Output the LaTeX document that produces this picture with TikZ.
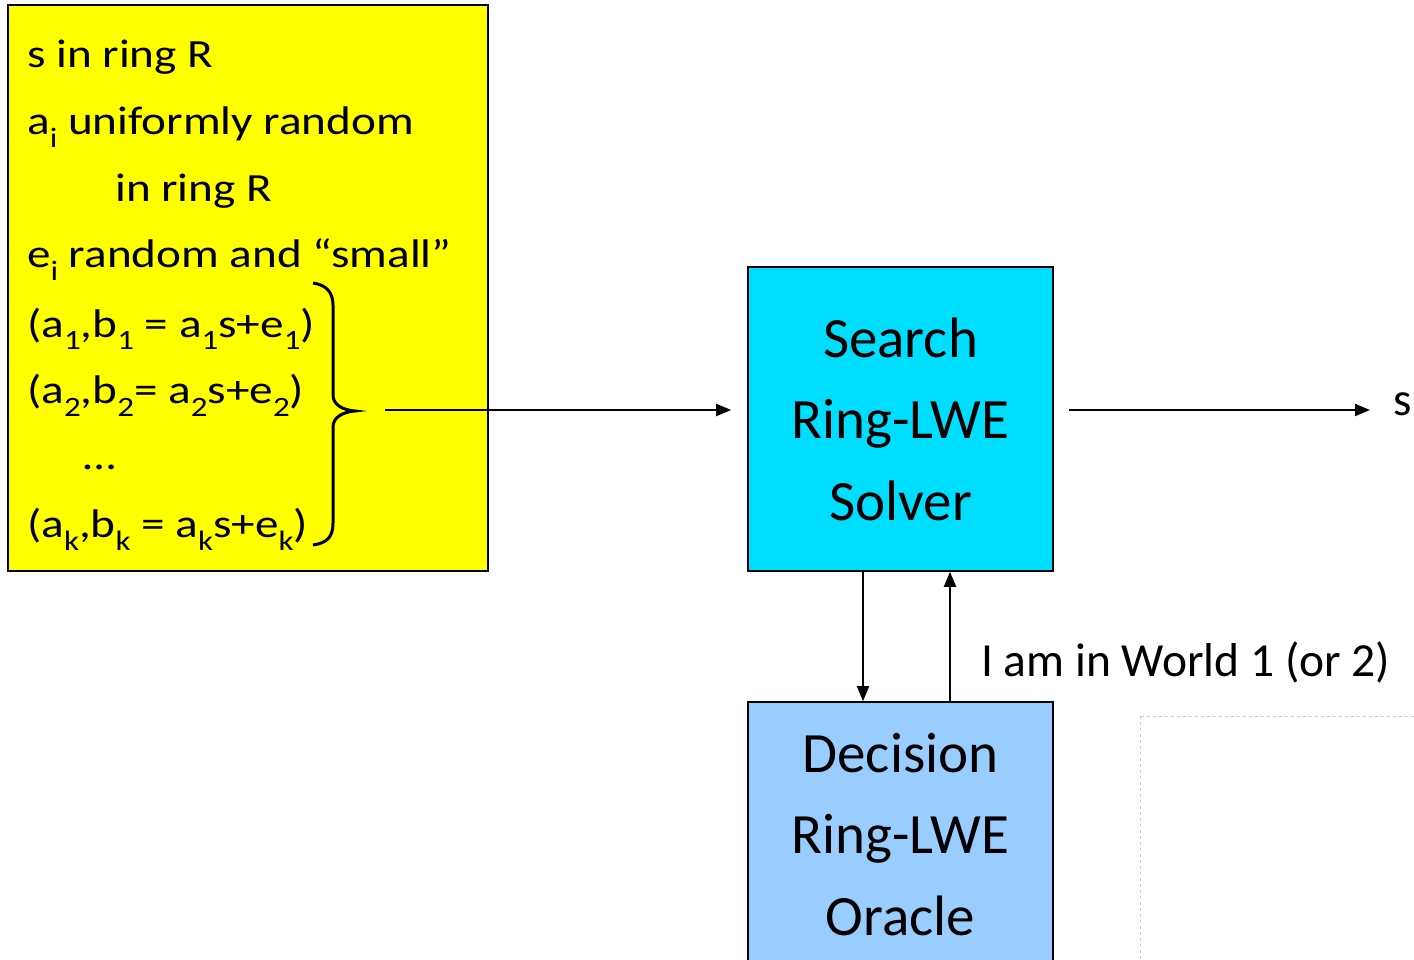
\documentclass[tikz,border=0pt]{standalone}
\usepackage{fontspec}
\setmainfont{Carlito}
\newfontfamily\wideft[FakeStretch=1.18]{Carlito}
\usetikzlibrary{arrows.meta}
\definecolor{boxyellow}{RGB}{255,255,0}
\definecolor{boxcyan}{RGB}{0,222,255}
\definecolor{boxblue}{RGB}{153,204,255}
\definecolor{phgray}{RGB}{205,205,205}
\newcommand{\lowr}[1]{\raisebox{-13pt}{\fontsize{28}{28}\selectfont #1}}
\tikzset{
  line/.style={anchor=base west, inner sep=0pt, font=\wideft\fontsize{40}{40}\selectfont},
  bigbox/.style={draw=black, line width=1.6pt, align=center, inner sep=0pt,
    minimum width=305pt, font=\fontsize{57}{81.5}\selectfont},
  arr/.style={line width=2pt, -{Triangle[length=15pt,width=12pt]}}
}
\begin{document}
\begin{tikzpicture}[x=1pt,y=-1pt]
\useasboundingbox (0,0) rectangle (1414,960);
\clip (0,0) rectangle (1414,960);
% yellow box
\node[draw=black, line width=1.6pt, fill=boxyellow, minimum width=480pt, minimum height=566pt, inner sep=0pt] (inbox) at (248,288) {};
\node[line] (l1) at (27,68) {s in ring R};
\node[line] (l2) at (27,135) {a\lowr{i} uniformly random};
\node[line] (l3) at (115,202) {in ring R};
\node[line] (l4) at (27,268) {e\lowr{i} random and “small”};
\node[line] (l5) at (27,337) {(a\lowr{1},b\lowr{1} = a\lowr{1}s+e\lowr{1})};
\node[line] (l6) at (27,403) {(a\lowr{2},b\lowr{2}= a\lowr{2}s+e\lowr{2})};
\node[line] (l7) at (83,469) {…};
\node[line] (l8) at (27,537) {(a\lowr{k},b\lowr{k} = a\lowr{k}s+e\lowr{k})};
% brace
\draw[line width=3pt] (313,283) .. controls (327,285) and (333,293) .. (333,305) -- (333,395)
  .. controls (333,405) and (343,410) .. (355,411) .. controls (343,412) and (333,417) .. (333,427)
  -- (333,523) .. controls (333,537) and (327,543) .. (313,545);
\coordinate (in) at (385,410);
% boxes
\node[bigbox, fill=boxcyan, minimum height=304pt] (search) at (900.5,419) {Search\\Ring-LWE\\Solver};
\node[bigbox, fill=boxblue, minimum height=265pt] (decision) at (900.5,834.5) {Decision\\Ring-LWE\\Oracle};
% output s
\node[anchor=west, inner sep=0pt, font=\fontsize{47}{47}\selectfont] (s) at (1393,404) {s};
% placeholder
\draw[phgray, line width=1pt, dashed] (1140,716) rectangle (1430,980);
% arrows
\draw[arr, shorten >=16pt] (in) -- (in -| search.west);
\draw[arr, shorten <=15pt, shorten >=23pt] (in -| search.east) -- (in -| s.west);
\draw[arr] ([xshift=-37.5pt]search.south) -- ([xshift=-37.5pt]decision.north);
\draw[arr] ([xshift=49.5pt]decision.north) -- ([xshift=49.5pt]search.south);
\node[anchor=base west, inner sep=0pt, font=\fontsize{47.5}{47.5}\selectfont] (lbl) at (981,676) {I am in World 1 (or 2)};
\end{tikzpicture}
\end{document}
